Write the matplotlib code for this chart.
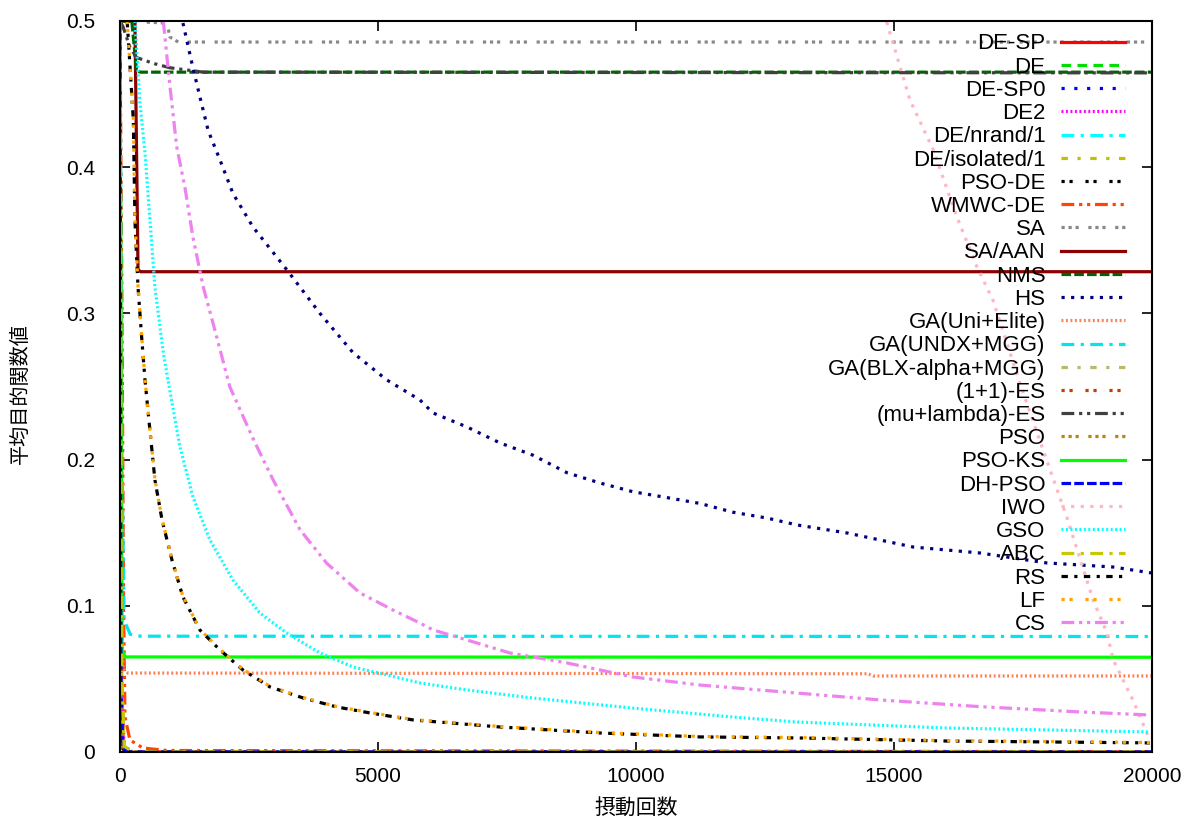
import matplotlib
matplotlib.use('Agg')
import matplotlib.pyplot as plt
from matplotlib.ticker import FuncFormatter

plt.rcParams['font.family'] = ['Liberation Sans', 'Noto Sans CJK JP', 'DejaVu Sans']

# --- data ---
# methods that collapse to ~0 right after the start
de_sp_x = [0, 20, 60, 200, 20000];  de_sp_y = [0.5, 0.05, 0.002, 0.0, 0.0]
de_x = [0, 25, 70, 200, 20000];     de_y = [0.5, 0.06, 0.003, 0.0, 0.0]
de_sp0_x = [0, 20, 60, 200, 20000]; de_sp0_y = [0.5, 0.04, 0.002, 0.0, 0.0]
de2_x = [0, 30, 80, 250, 20000];    de2_y = [0.5, 0.05, 0.004, 0.0, 0.0]
nrand_x = [0, 25, 70, 200, 20000];  nrand_y = [0.5, 0.05, 0.003, 0.0, 0.0]
isol_x = [0, 30, 80, 250, 20000];   isol_y = [0.5, 0.06, 0.004, 0.0, 0.0]
psode_x = [0, 20, 60, 200, 20000];  psode_y = [0.5, 0.04, 0.002, 0.0, 0.0]
wmwc_x = [0, 40, 70, 97, 194, 446, 910, 20000]
wmwc_y = [0.5, 0.3, 0.1, 0.024, 0.0082, 0.0027, 0.001, 0.0002]
sa_x = [0, 910, 970, 1130, 20000];  sa_y = [0.5, 0.4986, 0.489, 0.4856, 0.4856]
saaan_x = [0, 290, 350, 400, 20000]; saaan_y = [0.5, 0.5, 0.33, 0.3285, 0.3285]
nms_x = [0, 230, 320, 400, 20000];  nms_y = [0.5, 0.5, 0.466, 0.465, 0.465]
hs_x = [1221, 1395, 1550, 1710, 1938, 2190, 2580, 3230, 3876, 4520, 5170, 5814,
        6066, 6725, 7364, 8004, 8663, 9302, 9942, 10600, 11240, 11880, 12540,
        13120, 14090, 15370, 16670, 17960, 19250, 20000]
hs_y = [0.4986, 0.471, 0.448, 0.425, 0.405, 0.382, 0.359, 0.330, 0.300, 0.273, 0.2545, 0.2408,
        0.2319, 0.2223, 0.2114, 0.203, 0.191, 0.184, 0.178, 0.174, 0.170, 0.164, 0.160,
        0.1553, 0.1498, 0.1402, 0.1361, 0.1293, 0.1265, 0.1224]
uni_x = [0, 30, 60, 150, 14500, 14600, 20000]
uni_y = [0.5, 0.1, 0.057, 0.054, 0.0535, 0.052, 0.052]
undx_x = [0, 40, 80, 200, 400, 20000]
undx_y = [0.5, 0.2, 0.09, 0.0805, 0.0792, 0.079]
blx_x = [0, 30, 80, 250, 20000];    blx_y = [0.5, 0.05, 0.004, 0.0, 0.0]
es11_x = [0, 25, 70, 200, 20000];   es11_y = [0.5, 0.05, 0.003, 0.0, 0.0]
mles_x = [0, 60, 194, 323, 646, 970, 1615, 20000]
mles_y = [0.5, 0.496, 0.482, 0.475, 0.471, 0.468, 0.465, 0.4645]
pso_x = [0, 25, 70, 200, 20000];    pso_y = [0.5, 0.05, 0.003, 0.0, 0.0]
psoks_x = [0, 40, 100, 20000];      psoks_y = [0.5, 0.07, 0.065, 0.0648]
dhpso_x = [0, 20, 60, 200, 20000];  dhpso_y = [0.5, 0.04, 0.002, 0.0, 0.0]
iwo_x = [14860, 15310, 15760, 16220, 16610, 16920, 17440, 17890, 18350, 18860,
         19130, 19250, 19630, 19960]
iwo_y = [0.4993, 0.446, 0.412, 0.366, 0.3317, 0.309, 0.2524, 0.2066, 0.1607, 0.104,
         0.0814, 0.063, 0.0356, 0.0082]
gso_x = [290, 388, 485, 581, 678, 840, 930, 1163, 1415, 1744, 2190, 2713, 3230, 3876,
         4520, 5170, 5814, 6725, 8004, 9942, 11880, 13120, 16020, 19960]
gso_y = [0.5, 0.444, 0.41, 0.364, 0.318, 0.273, 0.2545, 0.2086, 0.1744, 0.145, 0.1176,
         0.095, 0.0814, 0.0677, 0.0581, 0.0527, 0.0472, 0.0424, 0.0369, 0.03, 0.0239,
         0.0205, 0.0164, 0.0137]
abc_x = [0, 30, 80, 250, 20000];    abc_y = [0.5, 0.06, 0.004, 0.0, 0.0]
rs_x = [140, 260, 290, 350, 420, 485, 581, 678, 814, 1008, 1221, 1550, 1938, 2384,
        2907, 3553, 4200, 4845, 5684, 7364, 9302, 11240, 13120, 16020, 19960]
rs_y = [0.5, 0.432, 0.364, 0.318, 0.284, 0.2545, 0.220, 0.186, 0.159, 0.1313, 0.106,
        0.0834, 0.0698, 0.0561, 0.0445, 0.0369, 0.0308, 0.0267, 0.0219, 0.0171, 0.013,
        0.0103, 0.0096, 0.0075, 0.0062]
lf_x = rs_x
lf_y = [0.5, 0.433, 0.365, 0.319, 0.285, 0.2548, 0.2205, 0.1865, 0.1595, 0.1318, 0.1065,
        0.0838, 0.0702, 0.0565, 0.0449, 0.0372, 0.0311, 0.027, 0.0222, 0.0174, 0.0133,
        0.0106, 0.0099, 0.0078, 0.0065]
cs_x = [840, 970, 1100, 1260, 1415, 1615, 1874, 2130, 2584, 2970, 3490, 4010,
        4650, 5290, 5814, 6066, 6725, 7560, 8663, 9942, 11240, 13120, 14730, 16670,
        18600, 19960]
cs_y = [0.5, 0.455, 0.414, 0.386, 0.352, 0.318, 0.284, 0.2497, 0.214, 0.186,
        0.152, 0.129, 0.1088, 0.0971, 0.0882, 0.0835, 0.0766, 0.0677, 0.0609, 0.0513,
        0.0458, 0.0403, 0.0356, 0.031, 0.0274, 0.0253]

# label, x, y, colour, dash pattern
series = [
    ('DE-SP', de_sp_x, de_sp_y, '#ff0000', '-'),
    ('DE', de_x, de_y, '#00e000', (0, (3, 2))),
    ('DE-SP0', de_sp0_x, de_sp0_y, '#0000ff', (0, (1, 3))),
    ('DE2', de2_x, de2_y, '#ff00ff', (0, (0.6, 0.8))),
    ('DE/nrand/1', nrand_x, nrand_y, '#00ffff', (0, (4, 2, 1, 2))),
    ('DE/isolated/1', isol_x, isol_y, '#c0c000', (0, (2, 3, 1, 3))),
    ('PSO-DE', psode_x, psode_y, '#000000', (0, (1, 1.5, 1, 4))),
    ('WMWC-DE', wmwc_x, wmwc_y, '#ff4500', (0, (4, 1.5, 1, 1.5, 1, 1.5))),
    ('SA', sa_x, sa_y, '#888888', (0, (1, 1.2, 1, 1.2, 1, 3))),
    ('SA/AAN', saaan_x, saaan_y, '#8b0000', '-'),
    ('NMS', nms_x, nms_y, '#006400', (0, (3, 1))),
    ('HS', hs_x, hs_y, '#000080', (0, (1, 2))),
    ('GA(Uni+Elite)', uni_x, uni_y, '#ff7f50', (0, (0.6, 0.8))),
    ('GA(UNDX+MGG)', undx_x, undx_y, '#00e5ee', (0, (4, 2, 1, 2))),
    ('GA(BLX-alpha+MGG)', blx_x, blx_y, '#bdb76b', (0, (2, 3, 1, 3))),
    ('(1+1)-ES', es11_x, es11_y, '#c04000', (0, (1, 1.5, 1, 4))),
    ('(mu+lambda)-ES', mles_x, mles_y, '#404040', (0, (4, 1.5, 1, 1.5, 1, 1.5))),
    ('PSO', pso_x, pso_y, '#b8860b', (0, (1, 1.2, 1, 1.2, 1, 3))),
    ('PSO-KS', psoks_x, psoks_y, '#00ff00', '-'),
    ('DH-PSO', dhpso_x, dhpso_y, '#0000ff', (0, (3, 1))),
    ('IWO', iwo_x, iwo_y, '#ffb6c1', (0, (1, 2))),
    ('GSO', gso_x, gso_y, '#00ffff', (0, (0.6, 0.8))),
    ('ABC', abc_x, abc_y, '#c8c800', (0, (4, 2, 1, 2))),
    ('RS', rs_x, rs_y, '#000000', (0, (2, 2, 1, 2))),
    ('LF', lf_x, lf_y, '#ffa500', (0, (1, 1.5, 1, 4))),
    ('CS', cs_x, cs_y, '#ee82ee', (0, (4, 1.5, 1, 1.5, 1, 1.5))),
]

fig = plt.figure(figsize=(11.9, 8.23), dpi=100)
ax = fig.add_axes([0.1008, 0.0863, 0.8672, 0.8882])

for label, xs, ys, color, ls in series:
    ax.plot(xs, ys, color=color, linestyle=ls, linewidth=2.3, label=label)

ax.set_xlim(0, 20000)
ax.set_ylim(0, 0.5)
ax.set_xticks([0, 5000, 10000, 15000, 20000])
ax.set_yticks([0, 0.1, 0.2, 0.3, 0.4, 0.5])
ax.yaxis.set_major_formatter(FuncFormatter(lambda v, p: '%g' % v))
ax.tick_params(direction='in', length=7, width=1.2, top=True, right=True,
               labelsize=15)
ax.tick_params(axis='x', pad=11)
ax.tick_params(axis='y', pad=18)
for s in ax.spines.values():
    s.set_linewidth(1.5)

ax.set_xlabel('摂動回数', fontsize=15)
ax.set_ylabel('平均目的関数値', fontsize=14.5)
ax.xaxis.set_label_coords(0.5, -0.063)
ax.yaxis.set_label_coords(-0.087, 0.49)

ax.legend(loc='upper right', bbox_to_anchor=(0.974, 0.983), frameon=False,
          markerfirst=False, fontsize=16, handlelength=2.9, handletextpad=0.68,
          labelspacing=0.10, borderaxespad=0, borderpad=0)

fig.savefig('out.png', dpi=100)
